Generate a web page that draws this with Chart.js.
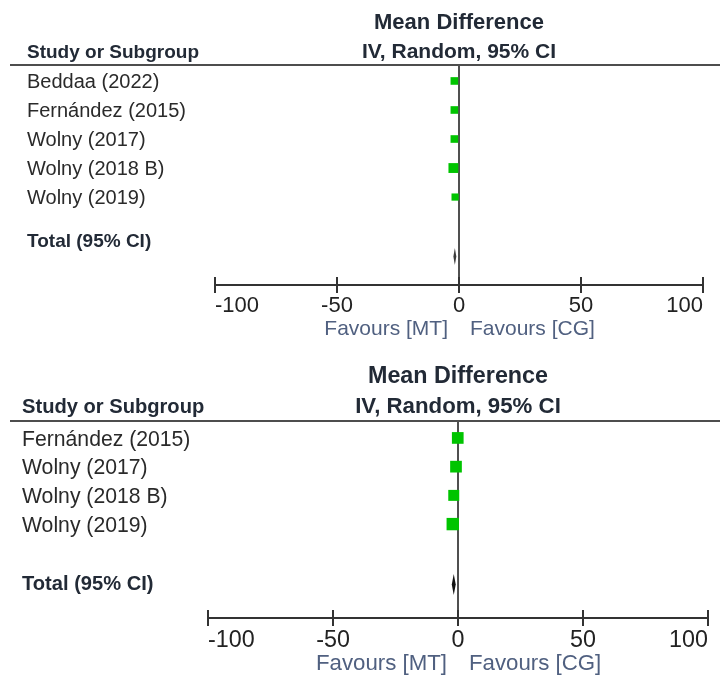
<!DOCTYPE html>
<html>
<head>
<meta charset="utf-8">
<script src="https://cdn.jsdelivr.net/npm/chart.js@4.4.1/dist/chart.umd.min.js"></script>
<style>
  html, body { margin: 0; padding: 0; background: #fff; }
  canvas { position: absolute; left: 0; }
  #plotA { top: 0; }
  #plotB { top: 345px; }
</style>
</head>
<body>
<canvas id="plotA" width="720" height="345"></canvas>
<canvas id="plotB" width="720" height="332"></canvas>
<script>
// values
const xTicks = [-100, -50, 0, 50, 100];

const studiesA = ['Beddaa (2022)', 'Fernández (2015)', 'Wolny (2017)', 'Wolny (2018 B)', 'Wolny (2019)'];
const meanDiffA = [-1.9, -1.9, -1.9, -2.3, -1.6];
const weightsA = [18, 18, 18, 30, 16];
const totalA = [-1.7, -2.3, -1.1]; // md, lower, upper

const studiesB = ['Fernández (2015)', 'Wolny (2017)', 'Wolny (2018 B)', 'Wolny (2019)'];
const meanDiffB = [-0.1, -0.8, -1.7, -2.1];
const weightsB = [25, 25, 22, 28];
const totalB = [-1.7, -2.5, -0.9];

const SANS = '"Liberation Sans", Arial, sans-serif';

function drawText(ctx, str, x, cy, size, bold, color, align) {
  ctx.font = (bold ? 'bold ' : '') + size + 'px ' + SANS;
  ctx.fillStyle = color;
  ctx.textAlign = align || 'left';
  ctx.textBaseline = 'alphabetic';
  ctx.fillText(str, x, cy + size * 0.36);
}

function forestPanel(id, studies, md, weights, total, p) {
  const fs = p.fs;

  const lines = {
    id: 'lines',
    beforeDatasetsDraw(chart) {
      const { ctx, chartArea: area, scales: { x } } = chart;
      const x0 = x.getPixelForValue(0);
      ctx.save();
      ctx.lineWidth = 2;
      ctx.strokeStyle = '#4d4d4d';
      ctx.beginPath(); ctx.moveTo(10, area.top); ctx.lineTo(720, area.top); ctx.stroke();
      ctx.strokeStyle = '#505050';
      ctx.beginPath(); ctx.moveTo(x0, area.top); ctx.lineTo(x0, area.bottom); ctx.stroke();
      ctx.strokeStyle = '#333';
      x.ticks.forEach((t, i) => {
        const px = x.getPixelForTick(i);
        ctx.beginPath(); ctx.moveTo(px, area.bottom - 8); ctx.lineTo(px, area.bottom); ctx.stroke();
      });
      ctx.restore();
    },
    afterDatasetsDraw(chart) {
      const { ctx, chartArea: area, scales: { x, y } } = chart;
      const x0 = x.getPixelForValue(0);
      ctx.save();
      // pooled estimate diamond
      const dy = y.getPixelForValue(p.diamondRow);
      ctx.fillStyle = p.diamondColor;
      ctx.beginPath();
      ctx.moveTo(x.getPixelForValue(total[1]), dy);
      ctx.lineTo(x.getPixelForValue(total[0]), dy - p.diamondHalf);
      ctx.lineTo(x.getPixelForValue(total[2]), dy);
      ctx.lineTo(x.getPixelForValue(total[0]), dy + p.diamondHalf);
      ctx.closePath();
      ctx.fill();

      const head = '#222a36';
      drawText(ctx, 'Mean Difference', x0, area.top - 44 * fs, 22 * fs, true, head, 'center');
      drawText(ctx, 'IV, Random, 95% CI', x0, area.top - 15 * fs, 21 * fs, true, head, 'center');
      drawText(ctx, 'Study or Subgroup', p.labelX, area.top - 14 * fs, 19 * fs, true, head);
      studies.forEach((s, i) => {
        drawText(ctx, s, p.labelX, y.getPixelForValue(i), 20 * fs, false, '#2a2a2a');
      });
      drawText(ctx, 'Total (95% CI)', p.labelX, y.getPixelForValue(p.totalRow), 19 * fs, true, head);
      const fy = area.bottom + p.favY;
      drawText(ctx, 'Favours [MT]', x0 - 11, fy, 21 * fs, false, '#506080', 'right');
      drawText(ctx, 'Favours [CG]', x0 + 11, fy, 21 * fs, false, '#506080', 'left');
      ctx.restore();
    }
  };

  return new Chart(document.getElementById(id), {
    type: 'scatter',
    data: {
      datasets: [{
        data: md.map((v, i) => ({ x: v, y: i })),
        pointStyle: 'rect',
        backgroundColor: '#00c400',
        borderWidth: 0,
        pointRadius: weights.map(w => p.markK * Math.sqrt(w) / Math.SQRT2),
        pointHoverRadius: weights.map(w => p.markK * Math.sqrt(w) / Math.SQRT2)
      }]
    },
    options: {
      responsive: false,
      animation: false,
      events: [],
      layout: { padding: { top: p.top, left: p.left, right: p.right, bottom: 0 } },
      plugins: { legend: { display: false }, tooltip: { enabled: false } },
      scales: {
        x: {
          type: 'linear', min: -100, max: 100,
          afterBuildTicks: sc => { sc.ticks = xTicks.map(v => ({ value: v })); },
          afterFit: sc => { sc.height = p.axisH; },
          border: { color: '#333', width: 2 },
          grid: { drawOnChartArea: false, tickLength: 8, color: '#333', lineWidth: 2 },
          ticks: { align: 'inner', padding: p.tickPad, color: '#222', font: { family: SANS, size: 22 * fs } }
        },
        y: { display: false, reverse: true, min: p.yMin, max: p.yMax }
      }
    },
    plugins: [lines]
  });
}

forestPanel('plotA', studiesA, meanDiffA, weightsA, totalA, {
  top: 65, left: 215, right: 17, axisH: 60, tickPad: 0,
  yMin: -0.55, yMax: 7.03, totalRow: 5.5, diamondRow: 6.05, diamondHalf: 8.5, diamondColor: '#3c3c3c',
  labelX: 27, fs: 1, markK: 1.8, favY: 42
});

forestPanel('plotB', studiesB, meanDiffB, weightsB, totalB, {
  top: 76, left: 208, right: 12, axisH: 59, tickPad: 1,
  yMin: -0.59, yMax: 6.27, totalRow: 5.05, diamondRow: 5.1, diamondHalf: 10.5, diamondColor: '#111',
  labelX: 22, fs: 1.06, markK: 2.34, favY: 44
});
</script>
</body>
</html>
